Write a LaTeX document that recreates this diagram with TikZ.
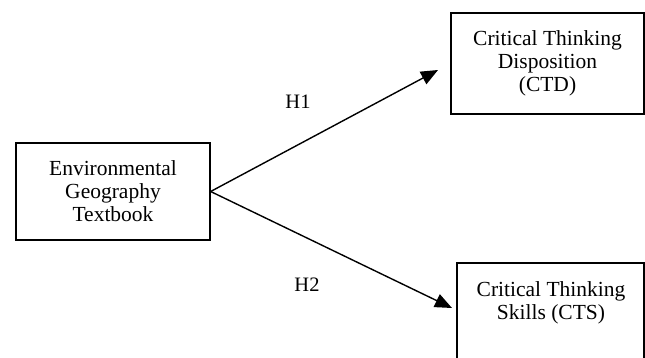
\documentclass[tikz,border=0pt]{standalone}
\usepackage{fontspec}
\setmainfont{Liberation Serif}
\usetikzlibrary{arrows.meta}
\begin{document}
\begin{tikzpicture}[x=1pt,y=-1pt,
  box/.style={draw=black, line width=1.3pt, rectangle, inner sep=0pt},
  lbl/.style={align=center, font=\fontsize{21.5}{23}\selectfont, inner sep=0pt},
  hyp/.style={font=\fontsize{20.5}{22}\selectfont, inner sep=0pt},
  conn/.style={line width=1.4pt, -{Triangle[length=17pt,width=14pt]}}]
\useasboundingbox (0,0) rectangle (645,358);
\node[box, minimum width=194pt, minimum height=97pt] (env) at (113,191.5) {};
\node[lbl] (envtext) at (113,191.5) {Environmental\\Geography\\Textbook};
\node[box, minimum width=193pt, minimum height=101pt] (ctd) at (547.5,63.5) {};
\node[lbl] (ctdtext) at (547.5,63.5) {Critical Thinking\\Disposition\\(CTD)};
\node[box, minimum width=187pt, minimum height=101pt] (cts) at (550.5,313.5) {};
\node[lbl] (ctstext) at (551,302.5) {Critical Thinking\\Skills (CTS)};
\coordinate (h1end) at (438,70);
\coordinate (h2end) at (452,308);
\draw[conn] (env.east) -- (h1end);
\draw[conn] (env.east) -- (h2end);
\node[hyp] (h1) at (298,102) {H1};
\node[hyp] (h2) at (307,285) {H2};
\end{tikzpicture}
\end{document}
